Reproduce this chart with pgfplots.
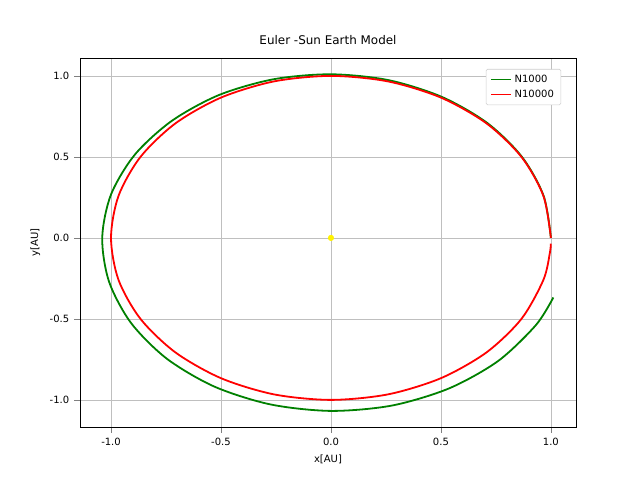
\documentclass[border=0pt]{standalone}
\usepackage{pgfplots}
\pgfplotsset{compat=1.18}
\usepackage{fontspec}
\setmainfont{DejaVu Sans}
\begin{document}
\begin{tikzpicture}
\path (-57.6bp,-38.2bp) rectangle (403.2bp,307.4bp);
\begin{axis}[at={(0,0)},anchor=south west,scale only axis,width=357.1bp,height=265.7bp,
xmin=-1.141,xmax=1.114,ymin=-1.167,ymax=1.111,
xtick={-1,-0.5,0,0.5,1},ytick={-1,-0.5,0,0.5,1},
xticklabel style={/pgf/number format/fixed,/pgf/number format/precision=1,/pgf/number format/fixed zerofill},
yticklabel style={/pgf/number format/fixed,/pgf/number format/precision=1,/pgf/number format/fixed zerofill},
/pgf/number format/assume math mode=true,
tick label style={font=\fontsize{7.2bp}{8.6bp}\selectfont},
label style={font=\fontsize{7.2bp}{8.6bp}\selectfont},
title style={font=\fontsize{8.6bp}{10bp}\selectfont},
grid=major,grid style={gray!50},
tick align=outside,tick pos=left,
title={Euler -Sun Earth Model},
xlabel={x[AU]},ylabel={y[AU]},
legend pos=north east,legend style={font=\fontsize{7.2bp}{8.6bp}\selectfont,legend cell align=left,draw=gray!40,rounded corners=1pt},
legend image code/.code={\draw[#1,line width=1.3pt] (0cm,0cm) -- (0.5cm,0cm);}]
\addplot[green!50!black,line width=1.3pt,smooth] coordinates {(1.000,0) (0.967,0.259) (0.868,0.501) (0.710,0.710) (0.503,0.871) (0.261,0.974) (0,1.010) (-0.262,0.979) (-0.509,0.882) (-0.723,0.723) (-0.891,0.515) (-1.000,0.268) (-1.040,0) (-1.009,-0.270) (-0.909,-0.525) (-0.746,-0.746) (-0.530,-0.918) (-0.275,-1.028) (0,-1.068) (0.277,-1.035) (0.537,-0.929) (0.760,-0.760) (0.932,-0.538) (1.011,-0.368)};
\addlegendentry{N1000}
\addplot[red,line width=1.3pt,smooth] coordinates {(1,0) (.966,.259) (.866,.5) (.707,.707) (.5,.866) (.259,.966) (0,1) (-.259,.966) (-.5,.866) (-.707,.707) (-.866,.5) (-.966,.259) (-1,0) (-.966,-.259) (-.866,-.5) (-.707,-.707) (-.5,-.866) (-.259,-.966) (0,-1) (.259,-.966) (.5,-.866) (.707,-.707) (.866,-.5) (.966,-.259) (.996,-.087) (.999,-.035)};
\addlegendentry{N10000}
\addplot[only marks,mark=*,mark size=2pt,yellow,forget plot] coordinates {(0,0)};
\end{axis}
\end{tikzpicture}
\end{document}
